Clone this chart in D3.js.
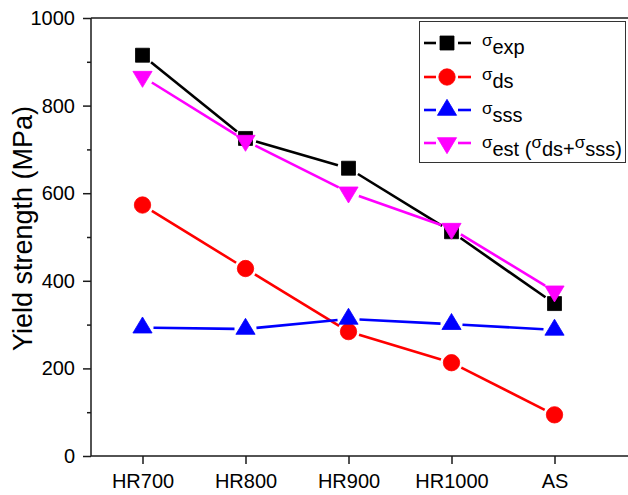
<!DOCTYPE html>
<html>
<head>
<meta charset="utf-8">
<script src="https://cdn.jsdelivr.net/npm/d3@7"></script>
<style>
  html, body { margin: 0; padding: 0; background: #fff; }
  svg { display: block; font-family: "Liberation Sans", Arial, sans-serif; }
</style>
</head>
<body>
<svg id="chart" width="628" height="495"></svg>
<script>
// Yield strength of each processing condition (MPa)
const categories = ["HR700", "HR800", "HR900", "HR1000", "AS"];
const sigmaExp = [915, 725, 657, 512, 348];
const sigmaDs  = [573, 428, 284, 213, 94];
const sigmaSss = [293, 290, 313, 301, 288];
const sigmaEst = [866, 720, 602, 519, 376];
const yTicks = [0, 200, 400, 600, 800, 1000];
const yMinorTicks = [100, 300, 500, 700, 900];

const svg = d3.select("#chart");
const plotLeft = 91, plotTop = 18, plotBottom = 456, plotRight = 640;

const x = d3.scaleLinear().domain([-0.5, categories.length - 0.5]).range([plotLeft, 606]);
const y = d3.scaleLinear().domain([0, 1000]).range([plotBottom, plotTop]);

const axisColor = "#1a1a1a";

// marker shapes, centred on the data point
const markerPath = {
  square: s => `M${-s/2},${-s/2}h${s}v${s}h${-s}Z`,
  triUp: s => { const w = s * 1.2, h = s; return `M0,${-2*h/3}L${w/2},${h/3}L${-w/2},${h/3}Z`; },
  triDown: s => { const w = s * 1.2, h = s; return `M0,${2*h/3}L${w/2},${-h/3}L${-w/2},${-h/3}Z`; }
};

function drawMarker(g, type, color, cx, cy) {
  if (type === "circle") {
    g.append("circle").attr("cx", cx).attr("cy", cy).attr("r", 8.2)
      .attr("fill", color).attr("stroke", color).attr("stroke-width", 0.8);
  } else {
    const size = type === "square" ? 14 : 16;
    g.append("path").attr("d", markerPath[type](size))
      .attr("transform", `translate(${cx},${cy})`)
      .attr("fill", color).attr("stroke", color).attr("stroke-width", 0.8);
  }
}

// connecting segments stop short of each marker
function gappedSegments(pts, gap) {
  const out = [];
  for (let i = 0; i < pts.length - 1; i++) {
    const [x0, y0] = pts[i], [x1, y1] = pts[i + 1];
    const dx = x1 - x0, dy = y1 - y0, len = Math.hypot(dx, dy);
    if (len <= 2 * gap) continue;
    const ux = dx / len, uy = dy / len;
    out.push([[x0 + ux * gap, y0 + uy * gap], [x1 - ux * gap, y1 - uy * gap]]);
  }
  return out;
}

const series = [
  { name: "exp", values: sigmaExp, color: "#000000", marker: "square" },
  { name: "ds",  values: sigmaDs,  color: "#ff0000", marker: "circle" },
  { name: "sss", values: sigmaSss, color: "#0000ff", marker: "triUp" },
  { name: "est", values: sigmaEst, color: "#ff00ff", marker: "triDown" }
];

// ---- axes ----
const yAxis = svg.append("g").attr("transform", `translate(${plotLeft},0)`)
  .call(d3.axisLeft(y).tickValues(yTicks).tickFormat(d3.format("d")).tickSize(8).tickPadding(8));
yAxis.select(".domain").remove();
yAxis.selectAll(".tick line").attr("stroke", axisColor).attr("stroke-width", 1.5);
yAxis.selectAll(".tick text").attr("font-size", 20).attr("fill", "#000")
  .attr("font-family", "Liberation Sans, Arial, sans-serif");

const yMinor = svg.append("g").attr("transform", `translate(${plotLeft},0)`)
  .call(d3.axisLeft(y).tickValues(yMinorTicks).tickSize(4).tickFormat(""));
yMinor.select(".domain").remove();
yMinor.selectAll(".tick line").attr("stroke", axisColor).attr("stroke-width", 1.5);

const xAxis = svg.append("g").attr("transform", `translate(0,${plotBottom})`)
  .call(d3.axisBottom(x).tickValues(d3.range(categories.length))
    .tickFormat(i => categories[i]).tickSize(8).tickPadding(10));
xAxis.select(".domain").remove();
xAxis.selectAll(".tick line").attr("stroke", axisColor).attr("stroke-width", 1.5);
xAxis.selectAll(".tick text").attr("font-size", 20).attr("fill", "#000")
  .attr("font-family", "Liberation Sans, Arial, sans-serif");

// frame lines
const frame = svg.append("g").attr("stroke", axisColor).attr("stroke-width", 1.5);
frame.append("line").attr("x1", plotLeft).attr("x2", plotLeft).attr("y1", plotTop).attr("y2", plotBottom);
frame.append("line").attr("x1", plotLeft).attr("x2", plotRight).attr("y1", plotBottom).attr("y2", plotBottom);
frame.append("line").attr("x1", plotLeft).attr("x2", plotRight).attr("y1", plotTop).attr("y2", plotTop);

// y axis title
svg.append("text")
  .attr("transform", `translate(32,${(100 + 357) / 2}) rotate(-90)`)
  .attr("text-anchor", "middle")
  .attr("font-size", 27)
  .attr("fill", "#000")
  .text("Yield strength (MPa)");

// ---- series ----
const plot = svg.append("g");
series.forEach(s => {
  const g = plot.append("g");
  const pts = s.values.map((v, i) => [x(i), y(v)]);
  gappedSegments(pts, 11).forEach(([a, b]) => {
    g.append("line").attr("x1", a[0]).attr("y1", a[1]).attr("x2", b[0]).attr("y2", b[1])
      .attr("stroke", s.color).attr("stroke-width", 2.6);
  });
  pts.forEach(([px, py]) => drawMarker(g, s.marker, s.color, px, py));
});

// ---- legend ----
const legend = svg.append("g");
legend.append("rect").attr("x", 419.5).attr("y", 21.5).attr("width", 206).attr("height", 141)
  .attr("fill", "#fff").attr("stroke", "#333").attr("stroke-width", 1);

const rowMarkerY = [43, 77, 110, 143];
series.forEach((s, i) => {
  const cy = rowMarkerY[i];
  const cx = 447;
  legend.append("line").attr("x1", 424).attr("x2", cx - 11).attr("y1", cy).attr("y2", cy)
    .attr("stroke", s.color).attr("stroke-width", 2.6);
  legend.append("line").attr("x1", cx + 11).attr("x2", 471).attr("y1", cy).attr("y2", cy)
    .attr("stroke", s.color).attr("stroke-width", 2.6);
  drawMarker(legend, s.marker, s.color, cx, cy);
});

// labels: small sigma raised, subscript text at full size
const legendLabels = [
  [["σ", true], ["exp", false]],
  [["σ", true], ["ds", false]],
  [["σ", true], ["sss", false]],
  [["σ", true], ["est (", false], ["σ", true], ["ds+", false], ["σ", true], ["sss)", false]]
];
const subBaseline = [54, 88, 122, 156];
legendLabels.forEach((parts, i) => {
  const t = legend.append("text").attr("x", 482).attr("y", subBaseline[i]).attr("fill", "#000");
  parts.forEach(([str, isSigma]) => {
    t.append("tspan")
      .attr("y", isSigma ? subBaseline[i] - 8 : subBaseline[i])
      .attr("font-size", isSigma ? 17 : 20)
      .text(str);
  });
});
</script>
</body>
</html>
